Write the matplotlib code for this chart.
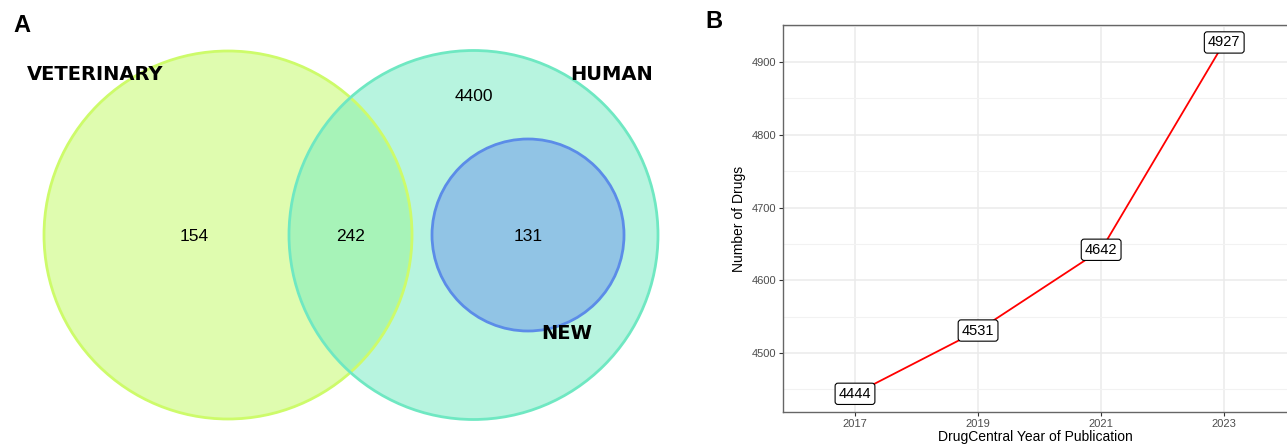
import matplotlib
matplotlib.use("Agg")
import matplotlib.pyplot as plt
from matplotlib.patches import Circle

# panel A: venn counts
venn_counts = {"vet_only": 154, "vet_human": 242, "human_only": 4400, "new": 131}
set_names = ["VETERINARY", "HUMAN", "NEW"]

# panel B: drugs per DrugCentral release
years = [2017, 2019, 2021, 2023]
n_drugs = [4444, 4531, 4642, 4927]

fig = plt.figure(figsize=(12.87, 4.44), dpi=100)

# ---- A: venn ----
axA = fig.add_axes([0, 0, 700 / 1287, 1])
axA.set_xlim(0, 700)
axA.set_ylim(444, 0)
axA.axis("off")

# circle layout (x, y, r) in panel pixels, with face / edge colours
vet = Circle((228, 235), 184, facecolor=(193/255, 251/255, 97/255), alpha=0.5, edgecolor="none")
hum = Circle((473.5, 235), 184.5, facecolor=(113/255, 235/255, 193/255), alpha=0.5, edgecolor="none")
new = Circle((528, 235), 96, facecolor=(108/255, 149/255, 236/255), alpha=0.5, edgecolor="none")
for c in [vet, hum, new]:
    axA.add_patch(c)
axA.add_patch(Circle((228, 235), 184, fill=False, edgecolor="#cdfb6a", lw=2))
axA.add_patch(Circle((473.5, 235), 184.5, fill=False, edgecolor="#6fe8c2", lw=2))
axA.add_patch(Circle((528, 235), 96, fill=False, edgecolor="#5b8ce8", lw=2))

num_kw = dict(ha="center", va="center", fontsize=12.5, family="Liberation Sans")
axA.text(194, 236, str(venn_counts["vet_only"]), **num_kw)
axA.text(351, 236, str(venn_counts["vet_human"]), **num_kw)
axA.text(474, 96, str(venn_counts["human_only"]), **num_kw)
axA.text(528, 236, str(venn_counts["new"]), **num_kw)

lab_kw = dict(ha="center", va="center", fontsize=14, fontweight="bold", family="DejaVu Sans")
axA.text(95, 74, set_names[0], **lab_kw)
axA.text(612, 75, set_names[1], **lab_kw)
axA.text(567, 333, set_names[2], **lab_kw)

fig.text(22 / 1287, 1 - 25 / 444, "A", fontsize=17, fontweight="bold", family="Liberation Sans",
         ha="center", va="center")

# ---- B: line ----
axB = fig.add_axes([783 / 1287, 32 / 444, 1 - 783 / 1287, (412 - 25) / 444])
axB.plot(years, n_drugs, color="red", lw=1.3, zorder=2)
for x, y in zip(years, n_drugs):
    axB.text(x, y, str(y), ha="center", va="center", fontsize=10.5, zorder=3,
             family="Liberation Sans",
             bbox=dict(boxstyle="round,pad=0.25,rounding_size=0.2", fc="white", ec="black", lw=0.8))

axB.set_xlim(2015.83, 2024.02)
axB.set_ylim(4419, 4951)
axB.set_xticks(years)
axB.set_yticks([4500, 4600, 4700, 4800, 4900])
axB.set_yticks([4450, 4550, 4650, 4750, 4850, 4950], minor=True)
axB.grid(which="major", color="#ebebeb", lw=1.1, zorder=0)
axB.grid(which="minor", axis="y", color="#f2f2f2", lw=0.8, zorder=0)
axB.set_axisbelow(True)
axB.tick_params(axis="both", which="major", labelsize=8, labelcolor="#4d4d4d", color="#333333",
                length=3, width=0.8, pad=2)
axB.tick_params(axis="both", which="minor", length=0)
for lbl in axB.get_xticklabels() + axB.get_yticklabels():
    lbl.set_family("Liberation Sans")
for s in ["top", "left", "bottom"]:
    axB.spines[s].set_color("#666666")
    axB.spines[s].set_linewidth(1)
axB.spines["right"].set_visible(False)
axB.set_xlabel("DrugCentral Year of Publication", fontsize=10, family="Liberation Sans", labelpad=1)
axB.set_ylabel("Number of Drugs", fontsize=10, family="Liberation Sans", labelpad=4)

fig.text(714 / 1287, 1 - 22 / 444, "B", fontsize=17, fontweight="bold", family="Liberation Sans",
         ha="center", va="center")

fig.savefig("out.png", dpi=100)
